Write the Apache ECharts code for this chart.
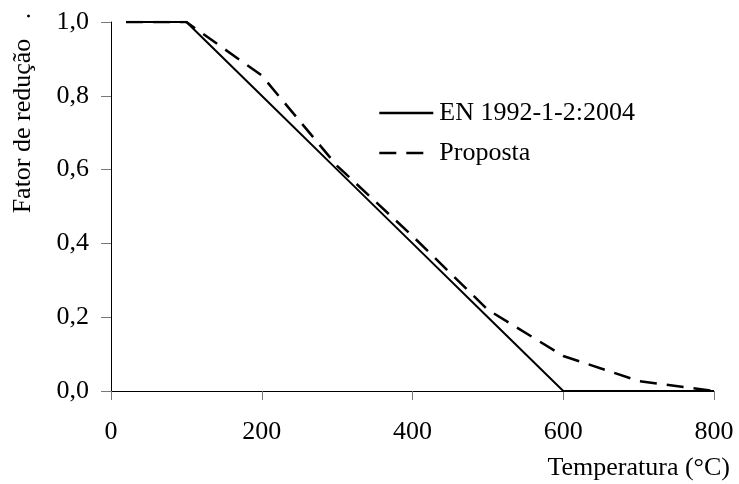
<!DOCTYPE html>
<html>
<head>
<meta charset="utf-8">
<script src="https://cdn.jsdelivr.net/npm/echarts@6/dist/echarts.min.js"></script>
<style>
  html, body { margin: 0; padding: 0; background: #fff; }
  #main { width: 739px; height: 484px; }
</style>
</head>
<body>
<div id="main"></div>
<script>
// temperatures (°C)
var temps = [20, 100, 200, 300, 400, 500, 600, 700, 800];
// reduction factors
var enValues = [1.0, 1.0, 0.8, 0.6, 0.4, 0.2, 0.0, 0.0, 0.0];
var propostaValues = [1.0, 1.0, 0.855, 0.61, 0.42, 0.22, 0.095, 0.027, 0.0];
var seriesNames = ['EN 1992-1-2:2004', 'Proposta'];

var serif = 'Liberation Serif, Times New Roman, serif';

function pairs(xs, ys) {
  return xs.map(function (x, i) { return [x, ys[i]]; });
}

var chartDom = document.getElementById('main');
var myChart = echarts.init(chartDom);
var option = {
  backgroundColor: '#fff',
  animation: false,
  grid: { left: 111, right: 25, top: 22, bottom: 93 },
  legend: {
    orient: 'vertical',
    left: 373,
    top: 95,
    itemWidth: 54,
    itemHeight: 26,
    itemGap: 14,
    itemStyle: { opacity: 0 },
    lineStyle: { width: 2.6 },
    textStyle: { fontFamily: serif, fontSize: 26, color: '#000', padding: [0, 0, 0, 1] },
    data: seriesNames
  },
  xAxis: {
    type: 'value',
    min: 0,
    max: 800,
    interval: 200,
    axisLine: { lineStyle: { color: '#000', width: 1 } },
    axisTick: { show: true, inside: false, length: 9, lineStyle: { color: '#777' } },
    splitLine: { show: false },
    axisLabel: { margin: 28, fontFamily: serif, fontSize: 26, color: '#000' }
  },
  yAxis: {
    type: 'value',
    min: 0,
    max: 1,
    interval: 0.2,
    axisLine: { show: true, lineStyle: { color: '#000', width: 1 } },
    axisTick: { show: true, length: 10, lineStyle: { color: '#777' } },
    splitLine: { show: false },
    axisLabel: {
      margin: 22,
      fontFamily: serif,
      fontSize: 26,
      color: '#000',
      formatter: function (v) { return v.toFixed(1).replace('.', ','); }
    }
  },
  graphic: [
    {
      type: 'text',
      x: 23,
      y: 113,
      rotation: Math.PI / 2,
      style: {
        text: 'Fator de redução   .',
        fontFamily: serif,
        fontSize: 26,
        fill: '#000',
        textAlign: 'center',
        textVerticalAlign: 'middle'
      }
    },
    {
      type: 'text',
      x: 730,
      y: 468,
      style: {
        text: 'Temperatura (°C)',
        fontFamily: serif,
        fontSize: 26,
        fill: '#000',
        textAlign: 'right',
        textVerticalAlign: 'middle'
      }
    }
  ],
  series: [
    {
      name: seriesNames[0],
      type: 'line',
      data: pairs(temps, enValues),
      showSymbol: false,
      symbol: 'none',
      lineStyle: { color: '#000', width: 2, type: 'solid' },
      itemStyle: { color: '#000' }
    },
    {
      name: seriesNames[1],
      type: 'line',
      data: pairs(temps, propostaValues),
      showSymbol: false,
      symbol: 'none',
      lineStyle: { color: '#000', width: 2.5, type: [17, 10] },
      itemStyle: { color: '#000' }
    }
  ]
};
myChart.setOption(option);
</script>
</body>
</html>
